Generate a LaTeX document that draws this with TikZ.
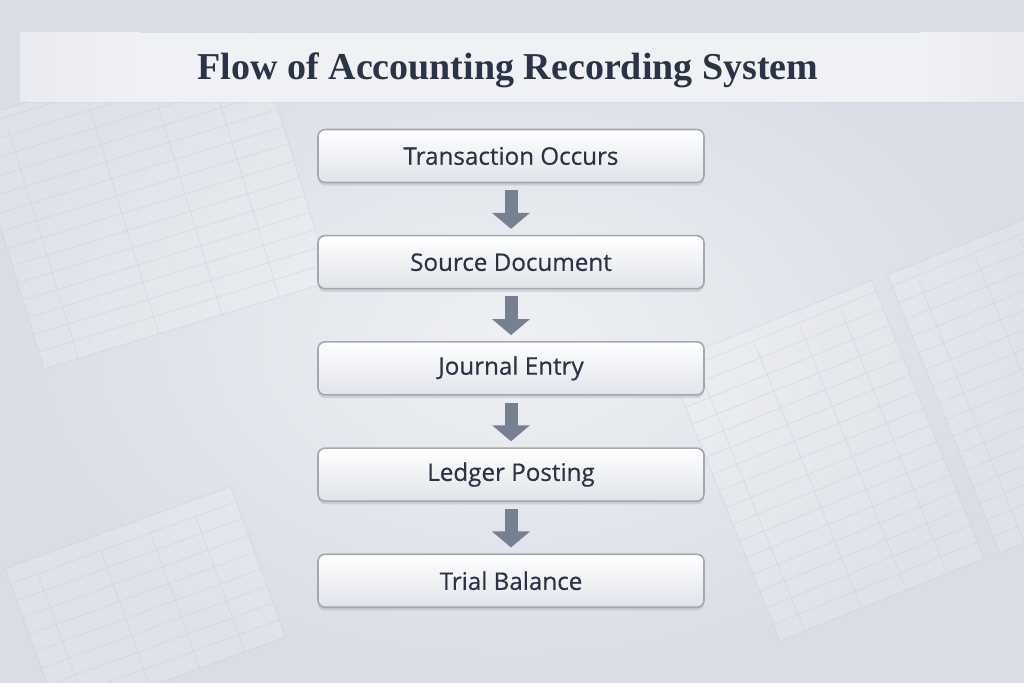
\documentclass[tikz,border=0pt]{standalone}
\usepackage{fontspec}
\setmainfont{Liberation Serif}
\newfontfamily\boxfont{Open Sans}[FakeBold=0.5]
\usetikzlibrary{positioning,arrows.meta,shadows}

\definecolor{bgdark}{HTML}{D9DDE5}
\definecolor{bglight}{HTML}{EEF0F3}
\definecolor{bandfill}{HTML}{F0F1F4}
\definecolor{inkdark}{HTML}{2A3446}
\definecolor{boxedge}{HTML}{A2A8B3}
\definecolor{boxlow}{HTML}{E0E3E9}
\definecolor{arrowgray}{HTML}{778090}
\definecolor{sheetline}{HTML}{BFC5D1}

\tikzset{
    flowbox/.style={draw=boxedge, line width=0.8pt, rounded corners=3.5pt,
        top color=white, bottom color=boxlow,
        minimum width=193pt, minimum height=26.5pt, inner sep=0pt,
        font=\boxfont\fontsize{12.1}{13}\selectfont, text=inkdark,
        drop shadow={opacity=0.22, shadow xshift=0pt, shadow yshift=-1.6pt}},
    flowarrow/.style={draw=arrowgray, line width=6.5pt,
        -{Triangle[width=18.5pt,length=8pt]}},
    sheetrule/.style={draw=sheetline, line width=0.4pt, opacity=0.35},
}

% faint ledger sheet: x, y, angle, width, height
\newcommand{\ledgersheet}[5]{%
    \begin{scope}[shift={(#1,#2)}, rotate=#3]
        \fill[white, opacity=0.18] (0,0) rectangle (#4,#5);
        \draw[sheetrule] (0,0) rectangle (#4,#5);
        % draw ruled lines
        \foreach \r in {9,18,...,#5} {%
            \draw[sheetrule] (0,\r) -- (#4,\r);}
        % draw columns
        \foreach \c in {0.12,0.4,0.62,0.82} {%
            \draw[sheetrule] (\c*#4,0) -- (\c*#4,#5-8);}
    \end{scope}
}

\begin{document}
\begin{tikzpicture}[x=1pt, y=1pt]
\useasboundingbox (0,0) rectangle (512,341.5);
% background
\shade[inner color=bglight, outer color=bgdark] (0,0) rectangle (512,341.5);
\ledgersheet{22}{157}{17}{150}{130}
\ledgersheet{390}{21}{22}{110}{150}
\ledgersheet{500}{65}{22}{110}{150}
\ledgersheet{30}{-18}{20}{120}{80}
% title band
\fill[bandfill] (70,290.5) rectangle (460,325);
\shade[left color=bgdark!30!bandfill, right color=bandfill] (10,290.5) rectangle (70,325);
\shade[left color=bandfill, right color=bgdark!30!bandfill] (460,290.5) rectangle (512,325);
\draw[bgdark!80!black!60, line width=0.6pt, opacity=0.35] (10,290.3) -- (512,290.3);
\node[font=\bfseries\fontsize{19}{21}\selectfont, text=inkdark] (title) at (254,306.5)
    {Flow of Accounting Recording System};

% flow boxes
\node[flowbox] (trans) at (255.5,263.5) {Transaction Occurs};
\node[flowbox, below=25.8pt of trans] (source) {Source Document};
\node[flowbox, below=25.8pt of source] (journal) {Journal Entry};
\node[flowbox, below=25.8pt of journal] (ledger) {Ledger Posting};
\node[flowbox, below=25.8pt of ledger] (trial) {Trial Balance};

% draw arrows
\foreach \a/\b in {trans/source, source/journal, journal/ledger, ledger/trial} {%
    \draw[flowarrow] ([yshift=-3.5pt]\a.south) -- ([yshift=3pt]\b.north);}
\end{tikzpicture}
\end{document}
